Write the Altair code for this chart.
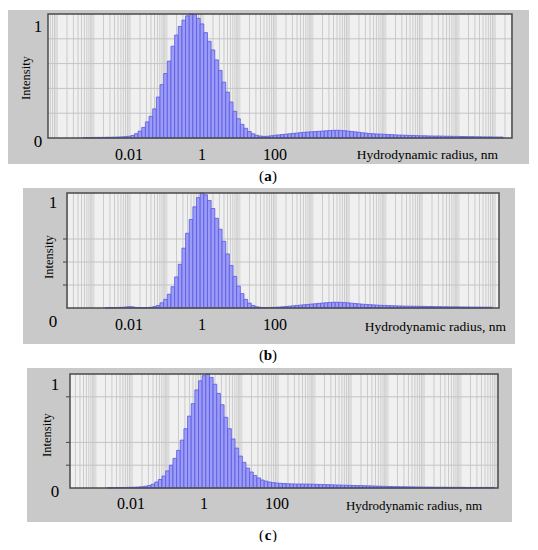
import altair as alt
import pandas as pd
import math

FONT = "'Liberation Serif', 'Times New Roman', Times, serif"
STEP = 0.1  # bin width in decades of radius

# ---- panel (a): intensity per log10(radius, nm) bin, starting at log10 = -3.2
a_start = -3.2
a_int = [
    0.003, 0.004, 0.004, 0.005, 0.005, 0.005, 0.006, 0.006, 0.007, 0.008,
    0.009, 0.011, 0.014, 0.02, 0.035, 0.055, 0.085, 0.13, 0.175, 0.235,
    0.33, 0.43, 0.52, 0.62, 0.74, 0.83, 0.90, 0.95, 0.985, 1.0,
    0.995, 0.965, 0.92, 0.85, 0.78, 0.71, 0.63, 0.545, 0.45, 0.37,
    0.29, 0.215, 0.155, 0.11, 0.078, 0.052, 0.034, 0.022, 0.016, 0.013,
    0.014, 0.018, 0.022, 0.025, 0.028, 0.031, 0.034, 0.037, 0.04, 0.043,
    0.046, 0.048, 0.05, 0.052, 0.054, 0.056, 0.058, 0.06, 0.062, 0.062,
    0.061, 0.059, 0.056, 0.053, 0.05, 0.046, 0.042, 0.039, 0.036, 0.034,
    0.032, 0.031, 0.03, 0.028, 0.027, 0.025, 0.024, 0.023, 0.022, 0.021,
    0.02, 0.019, 0.018, 0.018, 0.017, 0.016, 0.016, 0.016, 0.015, 0.014,
    0.014, 0.013, 0.013, 0.012, 0.012, 0.011, 0.011, 0.01, 0.01, 0.009,
    0.009, 0.009, 0.008, 0.008, 0.008,
]

# ---- panel (b), starting at log10 = -2.6
b_start = -2.6
b_int = [
    0.003, 0.004, 0.004, 0.005, 0.006, 0.008, 0.012, 0.01, 0.005, 0.003,
    0.003, 0.004, 0.006, 0.012, 0.022, 0.045, 0.075, 0.12, 0.185, 0.27,
    0.38, 0.52, 0.65, 0.77, 0.88, 0.96, 1.0, 0.985, 0.935, 0.865,
    0.78, 0.685, 0.58, 0.47, 0.37, 0.275, 0.19, 0.125, 0.075, 0.042,
    0.022, 0.011, 0.006, 0.004, 0.004, 0.005, 0.006, 0.008, 0.01, 0.013,
    0.016, 0.019, 0.022, 0.025, 0.028, 0.031, 0.034, 0.037, 0.04, 0.043,
    0.046, 0.048, 0.05, 0.05, 0.049, 0.047, 0.045, 0.042, 0.039, 0.036,
    0.033, 0.031, 0.029, 0.027, 0.025, 0.023, 0.022, 0.021, 0.02, 0.019,
    0.018, 0.017, 0.016, 0.016, 0.015, 0.015, 0.014, 0.014, 0.013, 0.013,
    0.012, 0.012, 0.011, 0.011, 0.01, 0.01, 0.01, 0.009, 0.009, 0.009,
    0.008, 0.008, 0.008, 0.007, 0.007, 0.007,
]

# ---- panel (c), starting at log10 = -2.6
c_start = -2.6
c_int = [
    0.002, 0.003, 0.003, 0.004, 0.004, 0.005, 0.006, 0.007, 0.009, 0.011,
    0.015, 0.022, 0.033, 0.052, 0.075, 0.105, 0.15, 0.2, 0.26, 0.33,
    0.42, 0.52, 0.63, 0.74, 0.86, 0.94, 0.985, 1.0, 0.97, 0.91,
    0.83, 0.73, 0.62, 0.52, 0.43, 0.35, 0.28, 0.225, 0.175, 0.14,
    0.11, 0.088, 0.07, 0.06, 0.052, 0.047, 0.043, 0.041, 0.039, 0.037,
    0.036, 0.035, 0.035, 0.035, 0.034, 0.034, 0.033, 0.032, 0.031, 0.03,
    0.029, 0.028, 0.027, 0.026, 0.025, 0.024, 0.023, 0.022, 0.021, 0.021,
    0.02, 0.019, 0.018, 0.017, 0.016, 0.015, 0.014, 0.013, 0.012, 0.012,
    0.011, 0.011, 0.01, 0.01, 0.009, 0.009, 0.008, 0.008, 0.008, 0.007,
    0.007, 0.007, 0.007, 0.006, 0.006, 0.006, 0.006, 0.006, 0.005, 0.005,
    0.005, 0.005, 0.005, 0.005, 0.005, 0.005,
]

tick_logs = [-2, 0, 2]
tick_text = ["0.01", "1", "100"]
y_label_text = ["1", "0"]
x_title = "Hydrodynamic radius, nm"
y_title = "Intensity"
captions = ["a", "b", "c"]

# ---- layout (pixel geometry of each panel, chart coordinates)
layout = [
    dict(start=a_start, vals=a_int, grid=[0.2, 0.4, 0.6, 0.8], dom=[-4.219, 8.493],
         px=(40, 504), py=(6, 130), frame=(0, 521, 2, 156), yticks=False,
         ylab=((30, 19), (30, 134)), xlab_y=147, ytitle=(18, 70),
         xtitle=(490, 147, 13.5), cap_y=168),
    dict(start=b_start, vals=b_int, grid=[0.2, 0.4, 0.6], dom=[-3.699, 8.137],
         px=(59, 491), py=(185, 300), frame=(15, 507, 180, 336), yticks=True,
         ylab=((45, 195), (45, 314)), xlab_y=317, ytitle=(41, 249),
         xtitle=(498, 319, 13.5), cap_y=347),
    dict(start=c_start, vals=c_int, grid=[0.2, 0.4, 0.8], dom=[-3.671, 8.055],
         px=(62, 490), py=(366, 480), frame=(19, 504, 360, 514), yticks=True,
         ylab=((47, 377), (47, 484)), xlab_y=496, ytitle=(39, 427),
         xtitle=(474, 498, 13), cap_y=527),
]

ONE = pd.DataFrame({"k": [0]})


def box(x0, x1, y0, y1, **kw):
    return alt.Chart(ONE).mark_rect(**kw).encode(
        x=alt.value(x0), x2=alt.value(x1), y=alt.value(y0), y2=alt.value(y1))


def label(text, x, y, size, angle=0, weight="normal", align="center"):
    return alt.Chart(pd.DataFrame({"t": [text]})).mark_text(
        font=FONT, fontSize=size, angle=angle, fontWeight=weight, align=align,
        baseline="middle", color="black").encode(
        x=alt.value(x), y=alt.value(y), text="t:N")


layers = []
for i, p in enumerate(layout):
    x0, x1 = p["px"]
    y0, y1 = p["py"]
    xs = alt.Scale(domain=p["dom"], range=[x0, x1], nice=False, zero=False)
    ys = alt.Scale(domain=[0, 1], range=[y1, y0], nice=False)
    fx0, fx1, fy0, fy1 = p["frame"]

    # outer gray frame and plot background
    layers.append(box(fx0, fx1, fy0, fy1, fill="#c9c9c9"))
    layers.append(box(x0, x1, y0, y1, fill="#f0f0f0"))

    # logarithmic vertical grid
    lo, hi = p["dom"]
    minor, major = [], []
    for m in range(math.floor(lo) - 1, math.ceil(hi) + 1):
        for k in range(1, 10):
            g = m + math.log10(k)
            if lo < g < hi:
                (major if k == 1 else minor).append(g)
    layers.append(alt.Chart(pd.DataFrame({"g": major})).mark_rule(
        color="#dcdcdc", strokeWidth=4).encode(
        x=alt.X("g:Q", scale=xs, axis=None), y=alt.value(y0), y2=alt.value(y1)))
    layers.append(alt.Chart(pd.DataFrame({"g": minor})).mark_rule(
        color="#cbcbcb", strokeWidth=1).encode(
        x=alt.X("g:Q", scale=xs, axis=None), y=alt.value(y0), y2=alt.value(y1)))

    # horizontal grid
    layers.append(alt.Chart(pd.DataFrame({"v": p["grid"]})).mark_rule(
        color="#c4c4c4", strokeWidth=1).encode(
        y=alt.Y("v:Q", scale=ys, axis=None), x=alt.value(x0), x2=alt.value(x1)))
    if p["yticks"]:
        layers.append(alt.Chart(pd.DataFrame({"v": p["grid"]})).mark_rule(
            color="#404040", strokeWidth=1).encode(
            y=alt.Y("v:Q", scale=ys, axis=None), x=alt.value(x0 - 4), x2=alt.value(x0)))

    # histogram bars
    df = pd.DataFrame({
        "logr": [round(p["start"] + j * STEP, 2) for j in range(len(p["vals"]))],
        "intensity": p["vals"],
    })
    layers.append(alt.Chart(df).transform_calculate(
        lo="datum.logr - 0.05", hi="datum.logr + 0.05").mark_rect(
        fill="#9c9cf6", stroke="#5858e6", strokeWidth=0.8).encode(
        x=alt.X("lo:Q", scale=xs, axis=None), x2="hi:Q",
        y=alt.Y("intensity:Q", scale=ys, axis=None), y2=alt.datum(0)))

    # plot border
    layers.append(box(x0, x1, y0, y1, fill="transparent", stroke="#4a4a4a", strokeWidth=1.5))

    # x tick labels
    layers.append(alt.Chart(pd.DataFrame({"l": tick_logs, "t": tick_text})).mark_text(
        font=FONT, fontSize=16, baseline="middle", color="black").encode(
        x=alt.X("l:Q", scale=xs, axis=None), y=alt.value(p["xlab_y"]), text="t:N"))

    # y labels, titles
    (lx1, ly1), (lx0, ly0) = p["ylab"]
    layers.append(label(y_label_text[0], lx1, ly1, 17))
    layers.append(label(y_label_text[1], lx0, ly0, 17))
    layers.append(label(y_title, p["ytitle"][0], p["ytitle"][1], 12.5, angle=270))
    tx, ty, ts = p["xtitle"]
    layers.append(label(x_title, tx, ty, ts, align="right"))

    # caption "(a)" etc.
    cy = p["cap_y"]
    layers.append(label("(", 256, cy, 15, align="right"))
    layers.append(label(captions[i], 260, cy, 15, weight="bold"))
    layers.append(label(")", 264, cy, 15, align="left"))

chart = alt.layer(*layers).resolve_scale(x="independent", y="independent").properties(
    width=522, height=534, padding=0,
    autosize=alt.AutoSizeParams(type="none"),
).configure_view(stroke=None)

chart.save("out.html", embed_options={"renderer": "svg", "actions": False})
